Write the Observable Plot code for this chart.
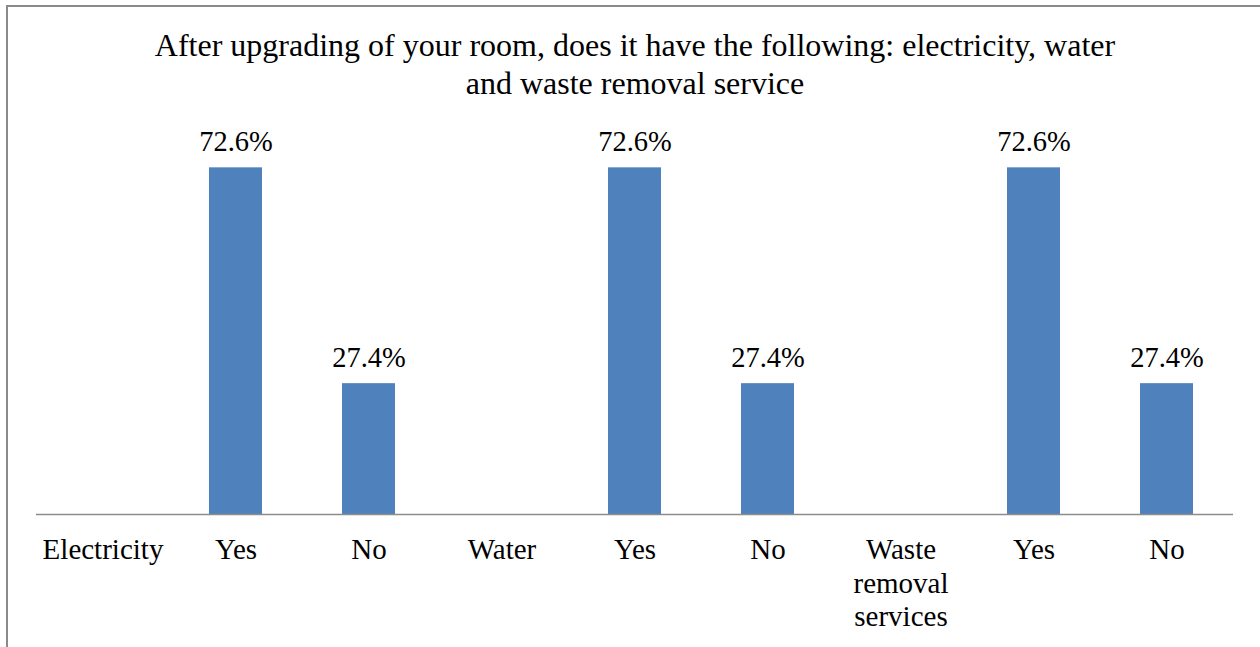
<!DOCTYPE html>
<html>
<head>
<meta charset="utf-8">
<script src="https://cdn.jsdelivr.net/npm/d3@7"></script>
<script src="https://cdn.jsdelivr.net/npm/@observablehq/plot@0.6"></script>
<style>
  html, body { margin: 0; padding: 0; background: #fff; }
  body { width: 1260px; height: 647px; overflow: hidden; position: relative; font-family: "Liberation Serif", "Times New Roman", serif; }
  #frame { position: absolute; left: 6px; top: 5px; width: 1260px; height: 660px; border-top: 2px solid #8a8a8a; border-left: 2px solid #8a8a8a; box-sizing: border-box; pointer-events: none; }
  #title { height: 110px; box-sizing: border-box; padding-top: 26px; padding-left: 10px; text-align: center; font-size: 32px; line-height: 38px; color: #000; white-space: nowrap; }
  #chart svg { display: block; }
</style>
</head>
<body>
<div id="title">After upgrading of your room, does it have the following: electricity, water<br>and waste removal service</div>
<div id="chart"></div>
<div id="frame"></div>
<script>
const categories = ["Electricity", "Yes", "No", "Water", "Yes", "No", "Waste removal services", "Yes", "No"];
const values = [null, 72.6, 27.4, null, 72.6, 27.4, null, 72.6, 27.4];

const data = categories.map((c, i) => ({i, category: c, value: values[i]}));
const barData = data.filter(d => d.value != null);
const serif = "'Liberation Serif', 'Times New Roman', serif";

const chart = Plot.plot({
  width: 1260,
  height: 537,
  marginLeft: 36,
  marginRight: 27,
  marginTop: 22,
  marginBottom: 133,
  style: {fontFamily: serif, fontSize: "28px", color: "#000", background: "#fff"},
  x: {type: "band", domain: data.map(d => d.i), paddingInner: 0.6, paddingOuter: 0.3, label: null},
  y: {domain: [0, 80], axis: null},
  marks: [
    Plot.barY(barData, {x: "i", y: "value", fill: "#4F81BD"}),
    Plot.ruleY([0], {stroke: "#8c8c8c", strokeWidth: 1.5}),
    Plot.text(barData, {x: "i", y: "value", text: d => d.value.toFixed(1) + "%", dy: -26, fill: "#000", fontSize: 28.5}),
    Plot.axisX({
      tickSize: 0,
      tickPadding: 20,
      tickFormat: i => categories[i].length > 12 ? categories[i].split(" ").join("\n") : categories[i],
      lineHeight: 1.17,
      fontSize: 29,
      fill: "#000"
    })
  ]
});
d3.select(chart).selectAll("text, tspan, g").style("font-family", serif);
document.getElementById("chart").appendChild(chart);
</script>
</body>
</html>
